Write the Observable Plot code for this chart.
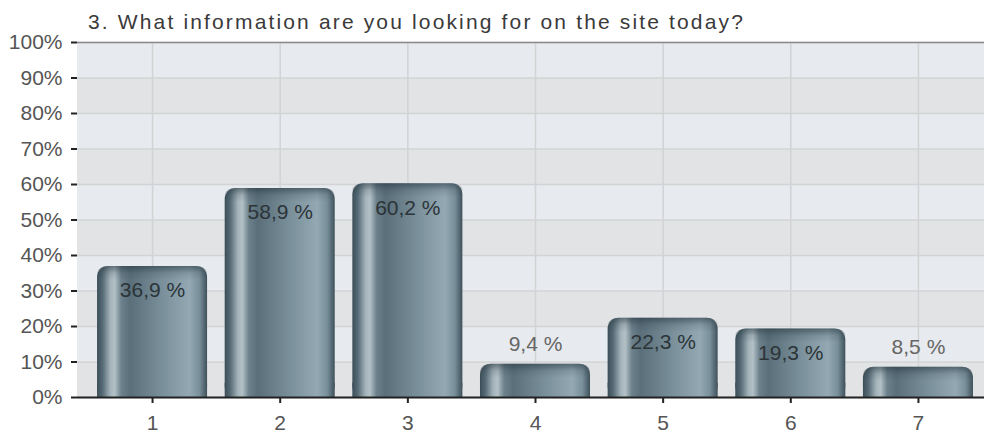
<!DOCTYPE html>
<html>
<head>
<meta charset="utf-8">
<script src="https://cdn.jsdelivr.net/npm/d3@7"></script>
<script src="https://cdn.jsdelivr.net/npm/@observablehq/plot@0.6"></script>
<style>
  html, body { margin: 0; padding: 0; background: #fff; overflow: hidden; }
  #title { position: absolute; left: 88px; top: 12px; font-family: "Liberation Sans", Arial, sans-serif; font-size: 21px;
           letter-spacing: 2.15px; color: #3a3a3a; line-height: 20px; white-space: nowrap; }
  #chart { position: absolute; left: 0; top: 0; }
</style>
</head>
<body>
<svg width="0" height="0" style="position:absolute">
  <defs>
    <linearGradient id="barGrad" x1="0" x2="1" y1="0" y2="0">
      <stop offset="0" stop-color="#3b4e58"/>
      <stop offset="0.05" stop-color="#566b76"/>
      <stop offset="0.12" stop-color="#a4b3ba"/>
      <stop offset="0.16" stop-color="#b3c1c7"/>
      <stop offset="0.22" stop-color="#6c818c"/>
      <stop offset="0.30" stop-color="#5a6f7a"/>
      <stop offset="0.60" stop-color="#7a909b"/>
      <stop offset="0.84" stop-color="#93a8b3"/>
      <stop offset="0.93" stop-color="#79909b"/>
      <stop offset="1" stop-color="#3f515b"/>
    </linearGradient>
    <linearGradient id="capGrad" x1="0" x2="0" y1="0" y2="1">
      <stop offset="0" stop-color="#23343d" stop-opacity="0.55"/>
      <stop offset="0.5" stop-color="#23343d" stop-opacity="0.15"/>
      <stop offset="1" stop-color="#23343d" stop-opacity="0"/>
    </linearGradient>
  </defs>
</svg>
<div id="chart"></div>
<div id="title">3. What information are you looking for on the site today?</div>
<script>
const categories = ["1", "2", "3", "4", "5", "6", "7"];
const values = [36.9, 58.9, 60.2, 9.4, 22.3, 19.3, 8.5];
const yTicks = [0, 10, 20, 30, 40, 50, 60, 70, 80, 90, 100];

const data = categories.map((c, i) => ({
  cat: c,
  value: values[i],
  label: values[i].toFixed(1).replace(".", ",") + " %"
}));

const bands = yTicks.slice(0, -1).map((t, i) => ({
  y1: t, y2: yTicks[i + 1], light: i % 2 === 1
}));

const chart = Plot.plot({
  width: 984,
  height: 434,
  marginTop: 42,
  marginBottom: 37,
  marginLeft: 77,
  marginRight: 0,
  style: { fontFamily: "'Liberation Sans', Arial, sans-serif", fontSize: "21px", color: "#555", background: "transparent" },
  x: { domain: categories, range: [77, 993], round: false, paddingInner: 0.138, paddingOuter: 0.157, label: null },
  y: { domain: [0, 100], label: null },
  marks: [
    Plot.rect(bands, { y1: "y1", y2: "y2", fill: d => d.light ? "#e7eaee" : "#e2e3e5" }),
    Plot.gridY(yTicks, { stroke: "#d2d3d5", strokeOpacity: 1, strokeWidth: 1.5 }),
    Plot.gridX(categories, { stroke: "#d2d3d5", strokeOpacity: 1, strokeWidth: 1.5 }),
    Plot.ruleY([100], { stroke: "#8a8a8a", strokeWidth: 1.5 }),
    Plot.barY(data, { x: "cat", y: "value", fill: "url(#barGrad)", rx: 11 }),
    Plot.barY(data, { x: "cat", y: d => Math.min(d.value, 4), fill: "url(#barGrad)" }),
    Plot.barY(data, { x: "cat", y1: d => d.value - 4, y2: "value", fill: "url(#capGrad)", rx: 11 }),
    Plot.text(data.filter(d => d.value >= 15), { x: "cat", y: "value", text: "label", dy: 24, fill: "#2c3438", fontSize: 21 }),
    Plot.text(data.filter(d => d.value < 15), { x: "cat", y: "value", text: "label", dy: -20, fill: "#666", fontSize: 21 }),
    Plot.axisY(yTicks, { tickFormat: d => d + "%", tickSize: 6, tickPadding: 9, line: true, stroke: "#222", strokeWidth: 2, fill: "#555", label: null }),
    Plot.axisX({ tickSize: 6, tickPadding: 12, stroke: "#222", strokeWidth: 2, fill: "#555", label: null }),
    Plot.ruleY([0], { stroke: "#222", strokeWidth: 2 })
  ]
});
document.getElementById("chart").appendChild(chart);
</script>
</body>
</html>
